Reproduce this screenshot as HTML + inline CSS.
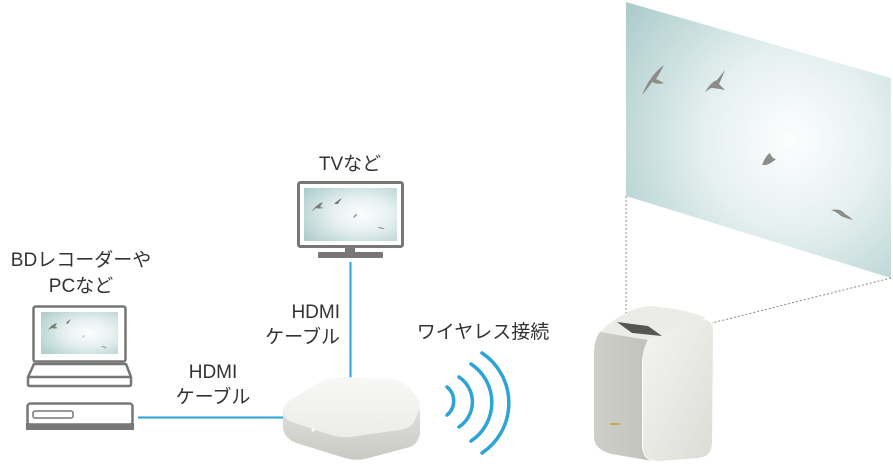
<!DOCTYPE html>
<html><head><meta charset="utf-8"><style>
body{margin:0;background:#fff;width:893px;height:464px;overflow:hidden}
svg{display:block}
text{font-family:"Liberation Sans","Noto Sans CJK JP",sans-serif;fill:#333}
</style></head><body>
<svg width="893" height="464" viewBox="0 0 893 464" xmlns="http://www.w3.org/2000/svg">
<defs>
<radialGradient id="sky" cx="0.62" cy="0.5" r="0.8">
<stop offset="0" stop-color="#fdfefe"/><stop offset="0.4" stop-color="#e6f0f0"/><stop offset="1" stop-color="#a9caca"/>
</radialGradient>
<linearGradient id="boxtop" x1="0" y1="0" x2="0" y2="1"><stop offset="0" stop-color="#f8f8f6"/><stop offset="1" stop-color="#ececea"/></linearGradient>
<linearGradient id="boxside" x1="0" y1="0" x2="0" y2="1"><stop offset="0" stop-color="#dededa"/><stop offset="1" stop-color="#cacac5"/></linearGradient>
<linearGradient id="pl" x1="0" y1="0" x2="1" y2="0"><stop offset="0" stop-color="#cfcfc9"/><stop offset="1" stop-color="#c2c2bc"/></linearGradient>
<linearGradient id="pr" x1="0" y1="0" x2="1" y2="1"><stop offset="0" stop-color="#f4f4f1"/><stop offset="1" stop-color="#dcdcd7"/></linearGradient>
</defs>

<!-- projection screen -->
<polygon points="626,2 891,78 891,278 626,196" fill="url(#sky)"/>
<g fill="#8d8c86">
<path d="M642,95 q8,-20 22,-30 q-4,8 -8,14 l8,4 q-6,2 -12,-1 q-4,6 -10,13z"/>
<path d="M705,92 q6,-10 12,-12 l8,-10 q-4,10 -6,14 q4,4 6,6 q-10,-2 -14,-2z"/>
<path d="M762,165 q4,-10 8,-12 q2,6 6,6 q-4,4 -10,6z"/>
<path d="M831,210 q10,-2 14,4 q4,2 8,6 q-8,-2 -12,-4 q-4,-4 -10,-6z"/>
</g>
<line x1="626" y1="196" x2="626" y2="318" stroke="#888" stroke-width="1" stroke-dasharray="2,2"/>
<line x1="891" y1="278" x2="712" y2="323" stroke="#888" stroke-width="1" stroke-dasharray="2,2"/>

<!-- projector -->
<path d="M600,332 Q625,308 650,306 Q690,310 706,318 L648,340 Z" fill="#ebebe7"/>
<path d="M600,332 L648,340 Q642,350 642,365 L642,445 Q642,458 652,461 L612,454 Q595,450 594,438 L594,350 Q595,338 600,332 Z" fill="url(#pl)"/>
<path d="M655,336 L700,320 Q713,318 713,332 L712,442 Q712,457 698,458 L660,461 Q644,461 643,448 L643,358 Q644,340 655,336 Z" fill="url(#pr)"/>
<polygon points="617,322 648,326 662,336 632,333" fill="#555552"/>
<rect x="610" y="423" width="10" height="2" fill="#c8a85a"/>

<!-- TV -->
<text x="350" y="170" font-size="19" text-anchor="middle">TVなど</text>
<rect x="298.5" y="182.5" width="104" height="64" rx="2" fill="#fff" stroke="#777" stroke-width="3"/>
<rect x="304" y="188" width="93" height="53" fill="url(#sky)"/>
<g fill="#7a7a74"><path d="M311,212 q6,-8 12,-10 l-3,5 4,1 q-6,1 -8,0z"/><path d="M334,204 q4,-4 8,-6 q-3,4 -4,6z"/><path d="M353,218 q2,-4 4,-4 q-1,3 -4,4z"/><path d="M377,227 q4,0 8,2 q-4,0 -8,-2z"/></g>
<rect x="345" y="247" width="10" height="6" fill="#777"/>
<rect x="318" y="252" width="65" height="6" rx="1" fill="#777"/>
<line x1="350.5" y1="262" x2="350.5" y2="380" stroke="#2ea3d8" stroke-width="2"/>

<!-- labels -->
<text x="81" y="266" font-size="19" text-anchor="middle">BDレコーダーや</text>
<text x="81" y="292" font-size="19" text-anchor="middle">PCなど</text>
<text x="340" y="318" font-size="19" text-anchor="end">HDMI</text>
<text x="340" y="343" font-size="19" text-anchor="end">ケーブル</text>
<text x="213" y="378" font-size="19" text-anchor="middle">HDMI</text>
<text x="213" y="403" font-size="19" text-anchor="middle">ケーブル</text>
<text x="483" y="338" font-size="19" text-anchor="middle">ワイヤレス接続</text>

<!-- laptop -->
<rect x="33.5" y="306.5" width="92" height="55" rx="2" fill="#fff" stroke="#777" stroke-width="2.5"/>
<rect x="41" y="312" width="77" height="42" fill="url(#sky)"/>
<g fill="#7a7a74"><path d="M48,330 q4,-6 9,-7 l-2,4 3,1 q-5,1 -6,0z"/><path d="M66,323 q3,-3 5,-4 q-2,3 -3,5z"/><path d="M82,338 q2,-3 3,-3 q-1,2 -3,3z"/><path d="M101,346 q3,0 6,2 q-3,0 -6,-2z"/></g>
<path d="M34,364 L126,364 L131,377 L131,384 Q131,386 129,386 L30,386 Q28,386 28,384 L28,377 Z" fill="#fff" stroke="#777" stroke-width="2.5" stroke-linejoin="round"/>
<line x1="28" y1="377" x2="131" y2="377" stroke="#777" stroke-width="2.5"/>
<!-- BD -->
<rect x="26" y="423" width="108" height="7" fill="#777"/>
<rect x="27.5" y="403.5" width="105" height="21" rx="3" fill="#fff" stroke="#777" stroke-width="2.5"/>
<rect x="33" y="411" width="40" height="7" rx="2" fill="#fff" stroke="#777" stroke-width="1.5"/>
<line x1="138" y1="417.5" x2="284" y2="417.5" stroke="#2ea3d8" stroke-width="2"/>

<!-- hub box -->
<path d="M283,410 L283,428 Q284,438 296,443 L345,458 Q355,461 365,459 L410,447 Q419,443 420,433 L420,410 Z" fill="url(#boxside)"/>
<path d="M290,400 L320,382 Q330,377 345,377 L390,379 Q402,380 410,388 L418,398 Q422,405 418,412 L415,420 Q412,428 400,430 L350,437 Q338,438 328,434 L292,422 Q282,418 283,410 Q284,404 290,400 Z" fill="url(#boxtop)"/>
<circle cx="313" cy="430" r="1.5" fill="#fff"/>

<!-- wifi arcs -->
<g fill="none" stroke="#2ea3d8" stroke-width="3.5" stroke-linecap="round">
<path d="M447,387 A18,18 0 0 1 447,415"/>
<path d="M459,377 A30,30 0 0 1 459,427"/>
<path d="M471,364 A46,46 0 0 1 471,441"/>
<path d="M482,353 A60,60 0 0 1 482,453"/>
</g>
</svg>
</body></html>
